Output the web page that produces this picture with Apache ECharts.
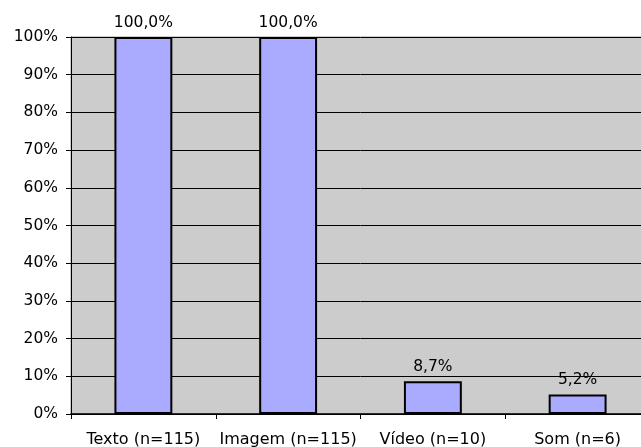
<!DOCTYPE html>
<html><head><meta charset="utf-8">
<script src="https://cdn.jsdelivr.net/npm/echarts@6/dist/echarts.min.js"></script>
<style>html,body{margin:0;padding:0;background:#fff;overflow:hidden}#c{width:650px;height:447px}</style>
</head><body><div id="c"></div>
<script>
const categories = ['Texto (n=115)', 'Imagem (n=115)', 'Vídeo (n=10)', 'Som (n=6)'];
const values = [100.0, 100.0, 8.7, 5.2];
const yTicks = [0, 10, 20, 30, 40, 50, 60, 70, 80, 90, 100];

const chart = echarts.init(document.getElementById('c'), null, {renderer: 'canvas'});
const font = 'DejaVu Sans, Verdana, sans-serif';
chart.setOption({
  animation: false,
  backgroundColor: '#ffffff',
  grid: {left: 71, right: 0, top: 37, bottom: 33, outerBoundsMode: 'none', containLabel: false, show: true, backgroundColor: '#cccccc', borderColor: '#999999', borderWidth: 1},
  xAxis: {
    type: 'category', data: categories,
    axisLine: {lineStyle: {color: '#000', width: 1.5}},
    axisTick: {show: true, length: 5, lineStyle: {color: '#000'}},
    axisLabel: {color: '#000', fontFamily: font, fontSize: 16, margin: 18, interval: 0}
  },
  yAxis: {
    type: 'value', min: yTicks[0], max: yTicks[yTicks.length - 1], interval: 10,
    axisLine: {show: true, lineStyle: {color: '#000'}},
    axisTick: {show: true, length: 5, lineStyle: {color: '#000'}},
    splitLine: {show: true, lineStyle: {color: '#000', width: 1}},
    axisLabel: {color: '#000', fontFamily: font, fontSize: 15.5, margin: 13, formatter: v => v + '%'}
  },
  series: [{
    type: 'bar', data: values, barWidth: '40%',
    itemStyle: {color: '#aaaaff', borderColor: '#000', borderWidth: 2},
    label: {show: true, position: 'top', distance: 6, color: '#000', fontFamily: font, fontSize: 15.5,
      formatter: p => p.value.toFixed(1).replace('.', ',') + '%'}
  }]
});
</script></body></html>
